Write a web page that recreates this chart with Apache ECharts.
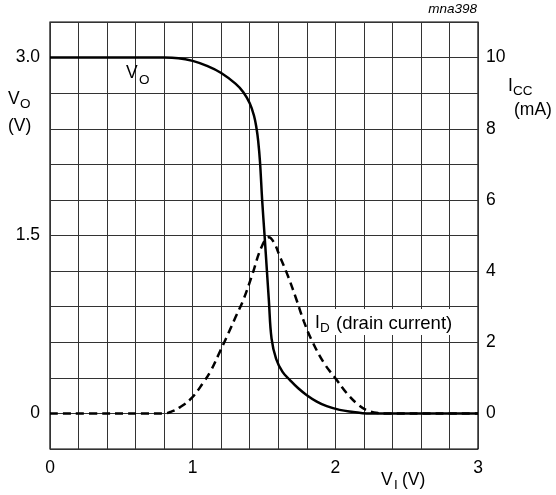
<!DOCTYPE html>
<html>
<head>
<meta charset="utf-8">
<script src="https://cdn.jsdelivr.net/npm/echarts@6/dist/echarts.min.js"></script>
<style>html,body{margin:0;padding:0;background:#fff}#c{width:556px;height:495px}</style>
</head>
<body>
<div id="c"></div>
<script>
// Input voltage V_I (V) for output voltage curve
var voX = [0, 0.4, 0.8, 0.9, 1.0, 1.1, 1.2, 1.3, 1.354, 1.4, 1.43, 1.448, 1.459, 1.472, 1.487, 1.504, 1.52, 1.534, 1.553, 1.585, 1.63, 1.682, 1.74, 1.8, 1.87, 1.94, 2.03, 2.126, 2.22, 2.6, 3.0];
// Output voltage V_O (V)
var voY = [3.0, 3.0, 3.0, 2.995, 2.972, 2.93, 2.87, 2.78, 2.71, 2.615, 2.51, 2.40, 2.30, 2.12, 1.80, 1.50, 1.21, 0.955, 0.63, 0.46, 0.35, 0.281, 0.212, 0.154, 0.10, 0.061, 0.03, 0.013, 0, 0, 0];
// Input voltage V_I (V) for drain current curve
var idX = [0, 0.4, 0.8, 0.85, 0.91, 0.99, 1.07, 1.13, 1.18, 1.25, 1.30, 1.354, 1.413, 1.483, 1.534, 1.57, 1.612, 1.67, 1.729, 1.78, 1.834, 1.92, 2.01, 2.08, 2.15, 2.22, 2.3, 2.35, 2.7, 3.0];
// Drain current I_D (mA)
var idY = [0, 0, 0, 0.05, 0.17, 0.42, 0.84, 1.22, 1.64, 2.25, 2.7, 3.18, 3.84, 4.68, 4.95, 4.8, 4.4, 3.84, 3.18, 2.58, 2.06, 1.42, 0.94, 0.57, 0.28, 0.09, 0.01, 0, 0, 0];
// Tick labels
var xTickLabels = [0, 1, 2, 3];
var leftTickLabels = [0, 1.5, 3.0];
var rightTickLabels = [0, 2, 4, 6, 8, 10];

var FONT = '"Liberation Sans", Arial, sans-serif';
function pairs(xs, ys) { return xs.map(function (x, i) { return [x, ys[i]]; }); }
function near(v, arr) { for (var i = 0; i < arr.length; i++) { if (Math.abs(v - arr[i]) < 1e-6) return arr[i]; } return null; }

var chart = echarts.init(document.getElementById('c'), null, { renderer: 'canvas' });
var txt = function (x, y, s, size, extra) {
  return { type: 'text', x: x, y: y, z: 100,
    style: Object.assign({ text: s, fill: '#000', font: size + 'px ' + FONT, textVerticalAlign: 'middle' }, extra || {}) };
};
chart.setOption({
  animation: false,
  backgroundColor: '#fff',
  grid: { left: 50, right: 78, top: 22, bottom: 46, show: true, borderColor: '#000', borderWidth: 1.2 },
  xAxis: {
    type: 'value', min: 0, max: 3, interval: 0.2,
    axisLine: { show: false }, axisTick: { show: false },
    splitLine: { show: true, lineStyle: { color: '#333', width: 1 } },
    axisLabel: { margin: 10, color: '#000', fontSize: 17.5, fontFamily: FONT,
      formatter: function (v) { var n = near(v, xTickLabels); return n === null ? '' : String(n); } }
  },
  yAxis: [{
    type: 'value', min: -0.3, max: 3.3, interval: 0.3, position: 'left',
    axisLine: { show: false }, axisTick: { show: false }, splitLine: { show: false },
    axisLabel: { margin: 10, color: '#000', fontSize: 17.5, fontFamily: FONT,
      formatter: function (v) { var n = near(v, leftTickLabels); return n === null ? '' : (n === 0 ? '0' : n.toFixed(1)); } }
  }, {
    type: 'value', min: -1, max: 11, interval: 1, position: 'right',
    axisLine: { show: false }, axisTick: { show: false },
    splitLine: { show: true, lineStyle: { color: '#333', width: 1 } },
    axisLabel: { margin: 8, color: '#000', fontSize: 17.5, fontFamily: FONT,
      formatter: function (v) { var n = near(v, rightTickLabels); return n === null ? '' : String(n); } }
  }],
  series: [{
    name: 'ID', type: 'line', yAxisIndex: 1, data: pairs(idX, idY), showSymbol: false,
    smooth: 0.4, z: 3,
    lineStyle: { color: '#000', width: 2.5, type: [8, 5] }
  }, {
    name: 'VO', type: 'line', yAxisIndex: 0, data: pairs(voX, voY), showSymbol: false,
    smooth: 0.4, z: 4,
    lineStyle: { color: '#000', width: 2.5 }
  }],
  graphic: [
    txt(477, 9, 'mna398', 13.5, { textAlign: 'right', font: 'italic 13.5px ' + FONT }),
    txt(8, 99, 'V', 17.5), txt(20, 104, 'O', 13.5),
    txt(8, 126, '(V)', 17.5),
    txt(508, 86, 'I', 17.5), txt(513, 91, 'CC', 13.5),
    txt(514, 110, '(mA)', 17.5),
    txt(126, 73.5, 'V', 17.5), txt(139, 80, 'O', 13.5),
    { type: 'rect', x: 312, y: 309, z: 90, shape: { width: 146, height: 26 }, style: { fill: '#fff' } },
    txt(315, 323, 'I', 17.5), txt(320, 328, 'D', 13.5), txt(336, 324, '(drain current)', 18.5),
    txt(381, 480, 'V', 17.5), txt(394, 485, 'I', 13.5), txt(402, 480, '(V)', 17.5)
  ]
});
</script>
</body>
</html>
